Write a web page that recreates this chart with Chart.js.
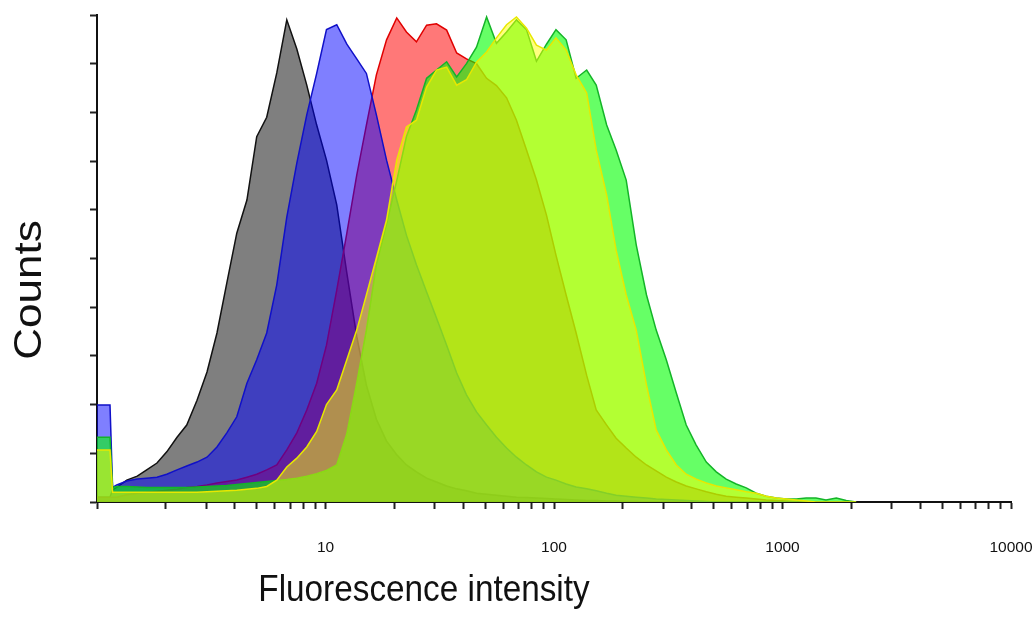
<!DOCTYPE html>
<html>
<head>
<meta charset="utf-8">
<script src="https://cdn.jsdelivr.net/npm/chart.js@4/dist/chart.umd.min.js"></script>
<style>
  html, body { margin: 0; padding: 0; background: #ffffff; }
  #wrap { width: 1032px; height: 623px; }
</style>
</head>
<body>
<div id="wrap"><canvas id="hist" width="1032" height="623"></canvas></div>
<script>
// Fluorescence channel (log-spaced bins)
const channels = [
  1.00, 1.14, 1.17, 1.22, 1.35, 1.50, 1.65, 1.83, 2.02, 2.24,
  2.47, 2.74, 3.03, 3.35, 3.70, 4.09, 4.53, 5.00, 5.53, 6.12,
  6.77, 7.49, 8.28, 9.15, 10.1, 11.2, 12.4, 13.7, 15.1, 16.7,
  18.5, 20.5, 22.6, 25.0, 27.7, 30.6, 33.9, 37.5, 41.4, 45.8,
  50.7, 56.0, 62.0, 68.5, 75.8, 83.8, 92.7, 102, 113, 125,
  139, 153, 170, 187, 207, 229, 254, 280, 310, 343,
  379, 419, 464, 513, 567, 627, 694, 767, 848, 938,
  1040, 1150, 1270, 1400, 1550, 1720, 1900, 2100
];

// Relative counts (% of modal channel) per sample
const countsBlack = [
  1, 1, 2.5, 3, 4.5, 5.3, 6.6, 8, 10.3, 13.3,
  15.8, 20.9, 26.7, 34.7, 45, 55.2, 62, 75, 79, 88.1,
  99, 93, 85.6, 77.4, 70.2, 61, 47, 34, 24, 17,
  12.5, 9.7, 7.6, 6.2, 4.9, 4.1, 3.3, 2.7, 2.3, 1.8,
  1.6, 1.4, 1.2, 1.0, 0.9, 0.8, 0.7, 0.6, 0.5, 0.4,
  0.3, 0.3, 0.2, 0.2, 0.1, 0.1, 0, 0, 0, 0,
  0, 0, 0, 0, 0, 0, 0, 0, 0, 0,
  0, 0, 0, 0, 0, 0, 0, 0
];
const countsRed = [
  1, 1, 1, 1, 1.5, 1.8, 2, 2.2, 2.4, 2.6,
  3, 3.2, 3.5, 3.9, 4.2, 4.5, 5.1, 5.7, 6.6, 7.6,
  10.7, 14.2, 18.9, 24.4, 32.2, 43.5, 55.2, 67.1, 77.4, 87.7,
  94.9, 99.4, 96.5, 94.5, 97.9, 98.2, 96.9, 92.2, 91, 90,
  87, 85.5, 83, 78.4, 72.3, 66.1, 58.9, 50.7, 42.5, 34.7,
  26, 18.9, 15.8, 13.1, 11.1, 9.2, 7.6, 6.4, 5.1, 4.1,
  3.3, 2.7, 2.1, 1.6, 1.2, 1.0, 0.8, 0.6, 0.4, 0.3,
  0.2, 0.1, 0, 0, 0, 0, 0, 0
];
const countsBlue = [
  19.9, 19.9, 3, 3.5, 4.3, 4.7, 4.9, 5.1, 5.7, 6.6,
  7.4, 8.2, 9.2, 11.3, 14.2, 17.5, 24.4, 29.2, 34.7, 44.6,
  58.5, 69.6, 79.5, 88, 97, 98, 94, 91, 88, 79.5,
  70.2, 62, 54.8, 48.7, 43.1, 37.8, 32.2, 26.5, 22, 18.5,
  15.8, 13.3, 11.1, 9.2, 7.6, 6.2, 5.1, 4.5, 3.7, 3.1,
  2.7, 2.3, 1.8, 1.4, 1.2, 1.0, 0.8, 0.6, 0.5, 0.4,
  0.3, 0.2, 0.1, 0, 0, 0, 0, 0, 0, 0,
  0, 0, 0, 0, 0, 0, 0, 0
];
const countsGreen = [
  13.3, 13.3, 3, 3.2, 3.2, 3.1, 3, 3, 3, 3,
  3, 3.1, 3.2, 3.3, 3.4, 3.6, 3.8, 4, 4.2, 4.4,
  4.6, 4.9, 5.3, 5.8, 6.5, 7.6, 14, 24.4, 35.3, 48.7,
  57, 66, 75, 80.5, 87, 88.7, 90.4, 87.3, 90, 93.4,
  99.6, 94.2, 96.5, 99, 97, 90.5, 94, 97, 94.9, 87,
  88.7, 85.6, 77.4, 72.3, 66.1, 52.8, 42.5, 35.3, 29.2, 22.4,
  15.8, 11.7, 8.2, 6.2, 4.7, 3.7, 2.9, 1.8, 1.2, 0.8,
  0.6, 0.6, 0.8, 0.8, 0.4, 0.8, 0.3, 0
];
const countsYellow = [
  10.7, 10.7, 2, 2, 2, 2, 2, 2, 2, 2,
  2, 2, 2.1, 2.2, 2.3, 2.4, 2.6, 2.8, 3.2, 4.5,
  7.2, 9, 11.3, 14.5, 20, 23, 29.2, 35.3, 42.5, 50.1,
  57.9, 70.2, 77, 78.4, 85.2, 88.7, 89.3, 85.6, 86.7, 90.3,
  92.4, 95.3, 98, 99.6, 97.3, 93.8, 92.8, 95.3, 92.8, 87.7,
  84, 72.3, 63, 51.7, 42.5, 35.3, 24, 14.8, 10.7, 7.6,
  5.7, 4.7, 3.9, 3.3, 2.9, 2.5, 2.1, 1.8, 1.2, 0.8,
  0.6, 0.4, 0.2, 0, 0, 0, 0, 0
];

// Axis tick positions and the ones that carry a label
const xTickValues = [
  1, 2, 3, 4, 5, 6, 7, 8, 9,
  10, 20, 30, 40, 50, 60, 70, 80, 90,
  100, 200, 300, 400, 500, 600, 700, 800, 900,
  1000, 2000, 3000, 4000, 5000, 6000, 7000, 8000, 9000,
  10000
];
const xLabelledTicks = [10, 100, 1000, 10000];

const axisTitleX = 'Fluorescence intensity';
const axisTitleY = 'Counts';

function points(values) {
  return channels.map((x, i) => ({ x: x, y: values[i] }));
}

function histogram(values, line, fillColor, order) {
  return {
    data: points(values),
    borderColor: line,
    backgroundColor: fillColor,
    borderWidth: 1.5,
    fill: 'origin',
    pointRadius: 0,
    tension: 0,
    order: order
  };
}

// Axis titles, drawn with the slightly condensed proportions of the figure
const axisTitles = {
  id: 'axisTitles',
  afterDraw(chart) {
    const ctx = chart.ctx;
    ctx.save();
    ctx.fillStyle = '#111111';
    ctx.textAlign = 'center';
    ctx.textBaseline = 'alphabetic';

    ctx.save();
    ctx.font = '36px "Liberation Sans", Arial, sans-serif';
    ctx.translate(424, 601);
    ctx.scale(0.925, 1);
    ctx.fillText(axisTitleX, 0, 0);
    ctx.restore();

    ctx.save();
    ctx.font = '44px "Liberation Sans", Arial, sans-serif';
    ctx.translate(41, 290);
    ctx.rotate(-Math.PI / 2);
    ctx.scale(1, 0.87);
    ctx.fillText(axisTitleY, 0, 0);
    ctx.restore();

    ctx.restore();
  }
};

new Chart(document.getElementById('hist'), {
  type: 'line',
  data: {
    datasets: [
      histogram(countsBlack,  '#111111', 'rgba(0,0,0,0.5)',      5),
      histogram(countsRed,    '#e00000', 'rgba(255,0,0,0.53)',   4),
      histogram(countsBlue,   '#1010c8', 'rgba(0,0,255,0.5)',    3),
      histogram(countsGreen,  '#14b428', 'rgba(0,255,0,0.6)',    2),
      histogram(countsYellow, '#e8e800', 'rgba(255,255,0,0.5)',  1)
    ]
  },
  options: {
    responsive: false,
    animation: false,
    devicePixelRatio: 1,
    layout: { padding: { top: 15, right: 21, left: 0, bottom: 0 } },
    plugins: {
      legend: { display: false },
      tooltip: { enabled: false },
      filler: { drawTime: 'beforeDatasetDraw' }
    },
    events: [],
    scales: {
      x: {
        type: 'logarithmic',
        min: 1,
        max: 10000,
        afterBuildTicks: (scale) => {
          scale.ticks = xTickValues.map(v => ({ value: v }));
        },
        afterFit: (scale) => {
          scale.height = 121;
          scale.paddingLeft = 0;
          scale.paddingRight = 0;
        },
        ticks: {
          autoSkip: false,
          maxRotation: 0,
          minRotation: 0,
          padding: 29,
          color: '#111111',
          font: { family: '"Liberation Sans", Arial, sans-serif', size: 15.5 },
          callback: (v) => xLabelledTicks.includes(v) ? String(v) : ''
        },
        grid: {
          drawOnChartArea: false,
          drawTicks: true,
          tickLength: 7,
          tickWidth: 2,
          tickColor: '#222222'
        },
        border: { display: true, color: '#111111', width: 2 }
      },
      y: {
        min: 0,
        max: 100,
        afterFit: (scale) => {
          scale.width = 97;
          scale.paddingTop = 0;
          scale.paddingBottom = 0;
        },
        ticks: { display: false, stepSize: 10 },
        grid: {
          drawOnChartArea: false,
          drawTicks: true,
          tickLength: 7,
          tickWidth: 2,
          tickColor: '#222222'
        },
        border: { display: true, color: '#111111', width: 2 }
      }
    }
  },
  plugins: [axisTitles]
});
</script>
</body>
</html>
